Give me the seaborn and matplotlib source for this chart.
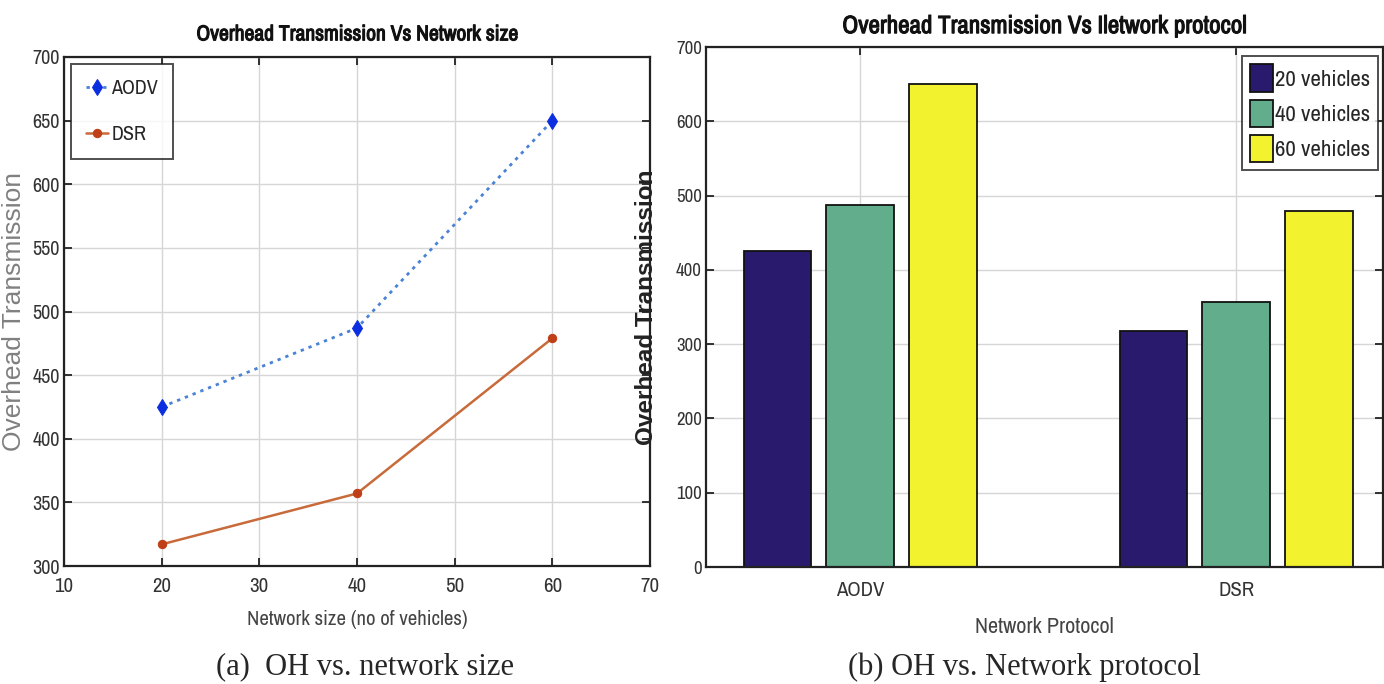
import numpy as np
import pandas as pd
import matplotlib
matplotlib.use("Agg")
import matplotlib.pyplot as plt
import matplotlib.patheffects as pe
import seaborn as sns
from matplotlib import font_manager as fm

# ---- data ----
network_size = [20, 40, 60]
aodv_oh = [425, 487, 650]
dsr_oh = [317, 357, 479]

protocols = ["AODV", "DSR"]
vehicle_groups = ["20 vehicles", "40 vehicles", "60 vehicles"]
bar_aodv = [425, 487, 650]
bar_dsr = [318, 357, 479]

x_ticks = [10, 20, 30, 40, 50, 60, 70]
y_ticks_left = [300, 350, 400, 450, 500, 550, 600, 650, 700]
y_ticks_right = [0, 100, 200, 300, 400, 500, 600, 700]

bar_colors = ["#2a1a6e", "#62ad8c", "#f2f22e"]

sns.set_theme(style="whitegrid")

# find a condensed / narrow sans face if one is installed
narrow_family = None
narrow_stretch = "normal"
for f in fm.fontManager.ttflist:
    if ("Narrow" in f.name or "Condensed" in f.name) and "Serif" not in f.name and "Mono" not in f.name:
        narrow_family = f.name
        break
if narrow_family is None:
    for f in fm.fontManager.ttflist:
        st = f.stretch
        ok = (isinstance(st, str) and st in ("condensed", "extra-condensed")) or \
             (isinstance(st, (int, float)) and st <= 300)
        if ok and "Serif" not in f.name and "Mono" not in f.name and "CJK" not in f.name:
            narrow_family = f.name
            narrow_stretch = "condensed"
            break
scale = 1.0
if narrow_family is None:
    narrow_family = "Liberation Sans"
    scale = 0.85

plt.rcParams["font.family"] = [narrow_family, "DejaVu Sans"]
plt.rcParams["font.stretch"] = narrow_stretch

fake_bold = [pe.withStroke(linewidth=0.8, foreground="#111111")]

W, H = 1384, 684
fig = plt.figure(figsize=(W / 100, H / 100), dpi=100)
fig.patch.set_facecolor("white")

def box(l, t, r, b):
    return [l / W, 1 - b / H, (r - l) / W, (b - t) / H]

ax1 = fig.add_axes(box(64, 57, 650, 566))
ax2 = fig.add_axes(box(706, 47, 1383, 567))

for ax in (ax1, ax2):
    ax.set_facecolor("white")
    for s in ax.spines.values():
        s.set_color("#222222")
        s.set_linewidth(1.6)
        s.set_visible(True)
    ax.grid(True, color="#d6d6d6", linewidth=1.0)
    ax.tick_params(direction="in", length=6, width=1.3, colors="#222222",
                   top=True, right=True, bottom=True, left=True,
                   labelsize=15 * scale, labelcolor="#333333", pad=4)

# ---- left: line plot ----
df_line = pd.DataFrame({"size": network_size * 2,
                        "oh": aodv_oh + dsr_oh,
                        "protocol": ["AODV"] * 3 + ["DSR"] * 3})
sns.lineplot(data=df_line[df_line.protocol == "AODV"], x="size", y="oh", ax=ax1,
             color="#4a82d6", linestyle=(0, (1.2, 1.8)), linewidth=2.0,
             marker="d", markersize=8, markerfacecolor="#0b2ee0",
             markeredgecolor="#0b2ee0", label="AODV")
sns.lineplot(data=df_line[df_line.protocol == "DSR"], x="size", y="oh", ax=ax1,
             color="#c86a3a", linestyle="-", linewidth=1.8,
             marker="o", markersize=6, markerfacecolor="#bf3f18",
             markeredgecolor="#bf3f18", label="DSR")
ax1.set_xlim(10, 70)
ax1.set_ylim(300, 700)
ax1.set_xticks(x_ticks)
ax1.set_yticks(y_ticks_left)
ax1.tick_params(axis="x", pad=8)
ax1.tick_params(axis="y", labelsize=14.5 * scale, pad=3)
t1 = ax1.set_title("Overhead Transmission Vs Network size", fontsize=15.5 * scale,
                   fontweight="bold", pad=12, color="#111111")
t1.set_path_effects(fake_bold)
ax1.set_xlabel("Network size (no of vehicles)", fontsize=15 * scale, color="#444444", labelpad=10)
ax1.set_ylabel("Overhead Transmission", fontsize=19, color="#808080",
               family=["Liberation Sans", "DejaVu Sans"], fontstretch="normal")
ax1.yaxis.set_label_coords(-0.064, 0.50)
leg1 = ax1.legend(loc="upper left", fontsize=14.5 * scale, frameon=True, fancybox=False,
                  handlelength=1.1, handletextpad=0.15, labelspacing=1.35,
                  borderpad=0.75, borderaxespad=0.35)
leg1.get_frame().set_edgecolor("#222222")
leg1.get_frame().set_linewidth(1.4)

# ---- right: grouped bar ----
df_bar = pd.DataFrame({"protocol": [p for p in protocols for _ in vehicle_groups],
                       "vehicles": vehicle_groups * 2,
                       "oh": bar_aodv + bar_dsr})
sns.barplot(data=df_bar, x="protocol", y="oh", hue="vehicles", ax=ax2,
            palette=bar_colors, saturation=1, width=0.66, gap=0.18,
            edgecolor="#111111", linewidth=1.3, errorbar=None)
ax2.set_xlim(-0.41, 1.39)
ax2.set_ylim(0, 700)
ax2.set_yticks(y_ticks_right)
ax2.tick_params(axis="y", labelsize=13.5 * scale, pad=3)
t2 = ax2.set_title("Overhead Transmission Vs Iletwork protocol", fontsize=18 * scale,
                   fontweight="bold", pad=10, color="#111111")
t2.set_path_effects(fake_bold)
ax2.set_xlabel("Network Protocol", fontsize=16 * scale, color="#444444", labelpad=12)
ax2.set_ylabel("Overhead Transmission", fontsize=17.5, fontweight="bold",
               family=["Liberation Sans", "DejaVu Sans"], fontstretch="normal",
               color="#222222")
ax2.yaxis.set_label_coords(-0.071, 0.50)
ax2.tick_params(axis="x", pad=10)
ax2.xaxis.grid(True)
leg2 = ax2.legend(loc="upper right", bbox_to_anchor=(0.993, 0.982),
                  fontsize=16.5 * scale, frameon=True, fancybox=False,
                  handlelength=1.0, handleheight=1.45, handletextpad=0.1,
                  labelspacing=0.35, borderpad=0.35, borderaxespad=0.0)
leg2.get_frame().set_edgecolor("#222222")
leg2.get_frame().set_linewidth(1.4)

# ---- captions ----
fig.text(365 / W, 1 - 667 / H, "(a)  OH vs. network size", ha="center", va="center",
         fontsize=22, family=["Liberation Serif", "DejaVu Serif"], fontstretch="normal")
fig.text(1024 / W, 1 - 667 / H, "(b) OH vs. Network protocol", ha="center", va="center",
         fontsize=22, family=["Liberation Serif", "DejaVu Serif"], fontstretch="normal")

fig.savefig("out.png", dpi=100, facecolor="white")
